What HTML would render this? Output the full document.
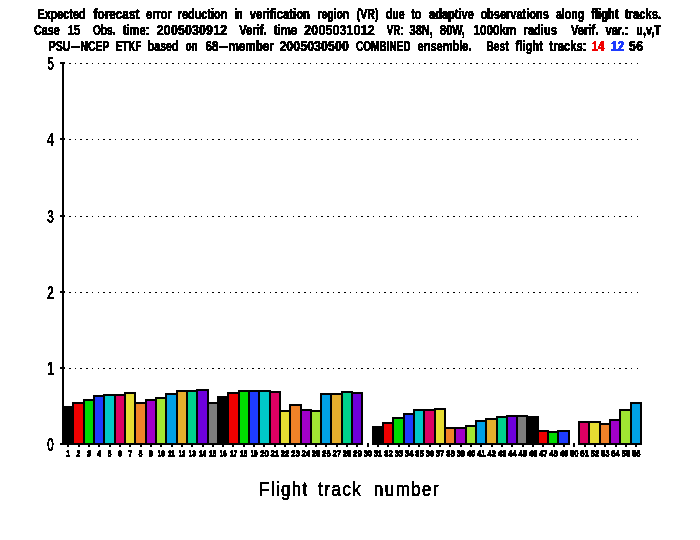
<!DOCTYPE html>
<html lang="en"><head><meta charset="utf-8"><title>Flight track forecast error reduction</title>
<style>html,body{margin:0;padding:0;background:#fff}svg{display:block}text{font-family:"Liberation Sans",sans-serif;fill:#000}.t{font-weight:bold;font-size:15.5px;stroke:#000;stroke-width:0.5px}.y{font-weight:bold;font-size:18px}.x{font-weight:bold;font-size:9px}.l{font-size:19.5px;stroke:#000;stroke-width:0.35px}</style></head><body>
<svg width="700" height="540" viewBox="0 0 700 540">
<rect width="700" height="540" fill="#fff"/>
<defs><filter id="th" x="0" y="0" width="700" height="540" filterUnits="userSpaceOnUse" color-interpolation-filters="sRGB"><feComponentTransfer><feFuncA type="discrete" tableValues="0 0 1 1 1"/></feComponentTransfer></filter><filter id="th2" x="0" y="440" width="700" height="30" filterUnits="userSpaceOnUse" color-interpolation-filters="sRGB"><feOffset in="SourceGraphic" dy="-1" result="o"/><feMerge><feMergeNode in="SourceGraphic"/><feMergeNode in="o"/></feMerge><feComponentTransfer><feFuncA type="discrete" tableValues="0 1 1 1"/></feComponentTransfer></filter></defs>
<g shape-rendering="crispEdges" stroke="#000" stroke-width="1" stroke-dasharray="1.5 4.233">
<line x1="69.02" x2="640" y1="368.5" y2="368.5"/>
<line x1="69.02" x2="640" y1="292.5" y2="292.5"/>
<line x1="69.02" x2="640" y1="216.5" y2="216.5"/>
<line x1="69.02" x2="640" y1="139.5" y2="139.5"/>
<line x1="69.02" x2="640" y1="63.5" y2="63.5"/>
</g>
<g shape-rendering="crispEdges">
<rect x="62" y="62" width="2" height="383" fill="#000"/>
<rect x="60" y="443" width="5" height="2" fill="#000"/>
<rect x="60" y="367" width="5" height="2" fill="#000"/>
<rect x="60" y="291" width="5" height="2" fill="#000"/>
<rect x="60" y="215" width="5" height="2" fill="#000"/>
<rect x="60" y="138" width="5" height="2" fill="#000"/>
<rect x="60" y="62" width="5" height="2" fill="#000"/>
<rect x="62" y="406" width="12" height="39" fill="#000"/>
<rect x="67" y="445" width="2" height="2" fill="#000"/>
<rect x="72" y="402" width="13" height="43" fill="#000"/>
<rect x="74" y="404" width="9" height="39" fill="#f00000"/>
<rect x="78" y="445" width="2" height="2" fill="#000"/>
<rect x="83" y="399" width="12" height="46" fill="#000"/>
<rect x="85" y="401" width="8" height="42" fill="#00dc00"/>
<rect x="88" y="445" width="2" height="2" fill="#000"/>
<rect x="93" y="395" width="12" height="50" fill="#000"/>
<rect x="95" y="397" width="8" height="46" fill="#1e3cff"/>
<rect x="98" y="445" width="2" height="2" fill="#000"/>
<rect x="103" y="394" width="13" height="51" fill="#000"/>
<rect x="105" y="396" width="9" height="47" fill="#00c8c8"/>
<rect x="109" y="445" width="2" height="2" fill="#000"/>
<rect x="114" y="394" width="12" height="51" fill="#000"/>
<rect x="116" y="396" width="8" height="47" fill="#dc0063"/>
<rect x="119" y="445" width="2" height="2" fill="#000"/>
<rect x="124" y="392" width="12" height="53" fill="#000"/>
<rect x="126" y="394" width="8" height="49" fill="#e6dc32"/>
<rect x="129" y="445" width="2" height="2" fill="#000"/>
<rect x="134" y="402" width="13" height="43" fill="#000"/>
<rect x="136" y="404" width="9" height="39" fill="#f08228"/>
<rect x="140" y="445" width="2" height="2" fill="#000"/>
<rect x="145" y="399" width="12" height="46" fill="#000"/>
<rect x="147" y="401" width="8" height="42" fill="#a000c8"/>
<rect x="150" y="445" width="2" height="2" fill="#000"/>
<rect x="155" y="397" width="12" height="48" fill="#000"/>
<rect x="157" y="399" width="8" height="44" fill="#a0e632"/>
<rect x="160" y="445" width="2" height="2" fill="#000"/>
<rect x="165" y="393" width="13" height="52" fill="#000"/>
<rect x="167" y="395" width="9" height="48" fill="#00a0e6"/>
<rect x="171" y="445" width="2" height="2" fill="#000"/>
<rect x="176" y="390" width="12" height="55" fill="#000"/>
<rect x="178" y="392" width="8" height="51" fill="#e6af2d"/>
<rect x="181" y="445" width="2" height="2" fill="#000"/>
<rect x="186" y="390" width="12" height="55" fill="#000"/>
<rect x="188" y="392" width="8" height="51" fill="#00d28c"/>
<rect x="191" y="445" width="2" height="2" fill="#000"/>
<rect x="196" y="389" width="13" height="56" fill="#000"/>
<rect x="198" y="391" width="9" height="52" fill="#6e00dc"/>
<rect x="202" y="445" width="2" height="2" fill="#000"/>
<rect x="207" y="402" width="12" height="43" fill="#000"/>
<rect x="209" y="404" width="8" height="39" fill="#7d7d7d"/>
<rect x="212" y="445" width="2" height="2" fill="#000"/>
<rect x="217" y="396" width="12" height="49" fill="#000"/>
<rect x="222" y="445" width="2" height="2" fill="#000"/>
<rect x="227" y="392" width="13" height="53" fill="#000"/>
<rect x="229" y="394" width="9" height="49" fill="#f00000"/>
<rect x="232" y="445" width="2" height="2" fill="#000"/>
<rect x="238" y="390" width="12" height="55" fill="#000"/>
<rect x="240" y="392" width="8" height="51" fill="#00dc00"/>
<rect x="243" y="445" width="2" height="2" fill="#000"/>
<rect x="248" y="390" width="12" height="55" fill="#000"/>
<rect x="250" y="392" width="8" height="51" fill="#1e3cff"/>
<rect x="253" y="445" width="2" height="2" fill="#000"/>
<rect x="258" y="390" width="13" height="55" fill="#000"/>
<rect x="260" y="392" width="9" height="51" fill="#00c8c8"/>
<rect x="263" y="445" width="2" height="2" fill="#000"/>
<rect x="269" y="391" width="12" height="54" fill="#000"/>
<rect x="271" y="393" width="8" height="50" fill="#dc0063"/>
<rect x="274" y="445" width="2" height="2" fill="#000"/>
<rect x="279" y="410" width="12" height="35" fill="#000"/>
<rect x="281" y="412" width="8" height="31" fill="#e6dc32"/>
<rect x="284" y="445" width="2" height="2" fill="#000"/>
<rect x="289" y="404" width="13" height="41" fill="#000"/>
<rect x="291" y="406" width="9" height="37" fill="#f08228"/>
<rect x="294" y="445" width="2" height="2" fill="#000"/>
<rect x="300" y="409" width="12" height="36" fill="#000"/>
<rect x="302" y="411" width="8" height="32" fill="#a000c8"/>
<rect x="305" y="445" width="2" height="2" fill="#000"/>
<rect x="310" y="410" width="12" height="35" fill="#000"/>
<rect x="312" y="412" width="8" height="31" fill="#a0e632"/>
<rect x="315" y="445" width="2" height="2" fill="#000"/>
<rect x="320" y="393" width="12" height="52" fill="#000"/>
<rect x="322" y="395" width="8" height="48" fill="#00a0e6"/>
<rect x="325" y="445" width="2" height="2" fill="#000"/>
<rect x="330" y="393" width="13" height="52" fill="#000"/>
<rect x="332" y="395" width="9" height="48" fill="#e6af2d"/>
<rect x="336" y="445" width="2" height="2" fill="#000"/>
<rect x="341" y="391" width="12" height="54" fill="#000"/>
<rect x="343" y="393" width="8" height="50" fill="#00d28c"/>
<rect x="346" y="445" width="2" height="2" fill="#000"/>
<rect x="351" y="392" width="12" height="53" fill="#000"/>
<rect x="353" y="394" width="8" height="49" fill="#6e00dc"/>
<rect x="356" y="445" width="2" height="2" fill="#000"/>
<rect x="367" y="443" width="2" height="4" fill="#000"/>
<rect x="372" y="426" width="12" height="19" fill="#000"/>
<rect x="377" y="445" width="2" height="2" fill="#000"/>
<rect x="382" y="422" width="12" height="23" fill="#000"/>
<rect x="384" y="424" width="8" height="19" fill="#f00000"/>
<rect x="387" y="445" width="2" height="2" fill="#000"/>
<rect x="392" y="417" width="13" height="28" fill="#000"/>
<rect x="394" y="419" width="9" height="24" fill="#00dc00"/>
<rect x="398" y="445" width="2" height="2" fill="#000"/>
<rect x="403" y="413" width="12" height="32" fill="#000"/>
<rect x="405" y="415" width="8" height="28" fill="#1e3cff"/>
<rect x="408" y="445" width="2" height="2" fill="#000"/>
<rect x="413" y="409" width="12" height="36" fill="#000"/>
<rect x="415" y="411" width="8" height="32" fill="#00c8c8"/>
<rect x="418" y="445" width="2" height="2" fill="#000"/>
<rect x="423" y="409" width="13" height="36" fill="#000"/>
<rect x="425" y="411" width="9" height="32" fill="#dc0063"/>
<rect x="429" y="445" width="2" height="2" fill="#000"/>
<rect x="434" y="408" width="12" height="37" fill="#000"/>
<rect x="436" y="410" width="8" height="33" fill="#e6dc32"/>
<rect x="439" y="445" width="2" height="2" fill="#000"/>
<rect x="444" y="427" width="12" height="18" fill="#000"/>
<rect x="446" y="429" width="8" height="14" fill="#f08228"/>
<rect x="449" y="445" width="2" height="2" fill="#000"/>
<rect x="454" y="427" width="13" height="18" fill="#000"/>
<rect x="456" y="429" width="9" height="14" fill="#a000c8"/>
<rect x="460" y="445" width="2" height="2" fill="#000"/>
<rect x="465" y="425" width="12" height="20" fill="#000"/>
<rect x="467" y="427" width="8" height="16" fill="#a0e632"/>
<rect x="470" y="445" width="2" height="2" fill="#000"/>
<rect x="475" y="420" width="12" height="25" fill="#000"/>
<rect x="477" y="422" width="8" height="21" fill="#00a0e6"/>
<rect x="480" y="445" width="2" height="2" fill="#000"/>
<rect x="485" y="418" width="13" height="27" fill="#000"/>
<rect x="487" y="420" width="9" height="23" fill="#e6af2d"/>
<rect x="491" y="445" width="2" height="2" fill="#000"/>
<rect x="496" y="416" width="12" height="29" fill="#000"/>
<rect x="498" y="418" width="8" height="25" fill="#00d28c"/>
<rect x="501" y="445" width="2" height="2" fill="#000"/>
<rect x="506" y="415" width="12" height="30" fill="#000"/>
<rect x="508" y="417" width="8" height="26" fill="#6e00dc"/>
<rect x="511" y="445" width="2" height="2" fill="#000"/>
<rect x="516" y="415" width="12" height="30" fill="#000"/>
<rect x="518" y="417" width="8" height="26" fill="#7d7d7d"/>
<rect x="522" y="445" width="2" height="2" fill="#000"/>
<rect x="526" y="416" width="13" height="29" fill="#000"/>
<rect x="532" y="445" width="2" height="2" fill="#000"/>
<rect x="537" y="430" width="12" height="15" fill="#000"/>
<rect x="539" y="432" width="8" height="11" fill="#f00000"/>
<rect x="542" y="445" width="2" height="2" fill="#000"/>
<rect x="547" y="431" width="12" height="14" fill="#000"/>
<rect x="549" y="433" width="8" height="10" fill="#00dc00"/>
<rect x="553" y="445" width="2" height="2" fill="#000"/>
<rect x="557" y="430" width="13" height="15" fill="#000"/>
<rect x="559" y="432" width="9" height="11" fill="#1e3cff"/>
<rect x="563" y="445" width="2" height="2" fill="#000"/>
<rect x="573" y="443" width="2" height="4" fill="#000"/>
<rect x="578" y="421" width="12" height="24" fill="#000"/>
<rect x="580" y="423" width="8" height="20" fill="#dc0063"/>
<rect x="584" y="445" width="2" height="2" fill="#000"/>
<rect x="588" y="421" width="13" height="24" fill="#000"/>
<rect x="590" y="423" width="9" height="20" fill="#e6dc32"/>
<rect x="594" y="445" width="2" height="2" fill="#000"/>
<rect x="599" y="423" width="12" height="22" fill="#000"/>
<rect x="601" y="425" width="8" height="18" fill="#f08228"/>
<rect x="604" y="445" width="2" height="2" fill="#000"/>
<rect x="609" y="419" width="12" height="26" fill="#000"/>
<rect x="611" y="421" width="8" height="22" fill="#a000c8"/>
<rect x="615" y="445" width="2" height="2" fill="#000"/>
<rect x="619" y="409" width="13" height="36" fill="#000"/>
<rect x="621" y="411" width="9" height="32" fill="#a0e632"/>
<rect x="625" y="445" width="2" height="2" fill="#000"/>
<rect x="630" y="402" width="12" height="43" fill="#000"/>
<rect x="632" y="404" width="8" height="39" fill="#00a0e6"/>
<rect x="635" y="445" width="2" height="2" fill="#000"/>
</g>
<g filter="url(#th2)">
<text class="x" transform="translate(66.3,456.8) scale(1,1.0)" textLength="4" lengthAdjust="spacingAndGlyphs">1</text>
<text class="x" transform="translate(76.6,456.8) scale(1,1.0)" textLength="4" lengthAdjust="spacingAndGlyphs">2</text>
<text class="x" transform="translate(86.9,456.8) scale(1,1.0)" textLength="4" lengthAdjust="spacingAndGlyphs">3</text>
<text class="x" transform="translate(97.2,456.8) scale(1,1.0)" textLength="4" lengthAdjust="spacingAndGlyphs">4</text>
<text class="x" transform="translate(107.6,456.8) scale(1,1.0)" textLength="4" lengthAdjust="spacingAndGlyphs">5</text>
<text class="x" transform="translate(117.9,456.8) scale(1,1.0)" textLength="4" lengthAdjust="spacingAndGlyphs">6</text>
<text class="x" transform="translate(128.2,456.8) scale(1,1.0)" textLength="4" lengthAdjust="spacingAndGlyphs">7</text>
<text class="x" transform="translate(138.6,456.8) scale(1,1.0)" textLength="4" lengthAdjust="spacingAndGlyphs">8</text>
<text class="x" transform="translate(148.9,456.8) scale(1,1.0)" textLength="4" lengthAdjust="spacingAndGlyphs">9</text>
<text class="x" transform="translate(157.7,456.8) scale(1,1.0)" textLength="7" lengthAdjust="spacingAndGlyphs">10</text>
<text class="x" transform="translate(168.0,456.8) scale(1,1.0)" textLength="7" lengthAdjust="spacingAndGlyphs">11</text>
<text class="x" transform="translate(178.4,456.8) scale(1,1.0)" textLength="7" lengthAdjust="spacingAndGlyphs">12</text>
<text class="x" transform="translate(188.7,456.8) scale(1,1.0)" textLength="7" lengthAdjust="spacingAndGlyphs">13</text>
<text class="x" transform="translate(199.0,456.8) scale(1,1.0)" textLength="7" lengthAdjust="spacingAndGlyphs">14</text>
<text class="x" transform="translate(209.3,456.8) scale(1,1.0)" textLength="7" lengthAdjust="spacingAndGlyphs">15</text>
<text class="x" transform="translate(219.7,456.8) scale(1,1.0)" textLength="7" lengthAdjust="spacingAndGlyphs">16</text>
<text class="x" transform="translate(230.0,456.8) scale(1,1.0)" textLength="7" lengthAdjust="spacingAndGlyphs">17</text>
<text class="x" transform="translate(240.3,456.8) scale(1,1.0)" textLength="7" lengthAdjust="spacingAndGlyphs">18</text>
<text class="x" transform="translate(250.6,456.8) scale(1,1.0)" textLength="7" lengthAdjust="spacingAndGlyphs">19</text>
<text class="x" transform="translate(260.2,456.8) scale(1,1.0)" textLength="8.6" lengthAdjust="spacingAndGlyphs">20</text>
<text class="x" transform="translate(270.5,456.8) scale(1,1.0)" textLength="8.6" lengthAdjust="spacingAndGlyphs">21</text>
<text class="x" transform="translate(280.8,456.8) scale(1,1.0)" textLength="8.6" lengthAdjust="spacingAndGlyphs">22</text>
<text class="x" transform="translate(291.2,456.8) scale(1,1.0)" textLength="8.6" lengthAdjust="spacingAndGlyphs">23</text>
<text class="x" transform="translate(301.5,456.8) scale(1,1.0)" textLength="8.6" lengthAdjust="spacingAndGlyphs">24</text>
<text class="x" transform="translate(311.8,456.8) scale(1,1.0)" textLength="8.6" lengthAdjust="spacingAndGlyphs">25</text>
<text class="x" transform="translate(322.1,456.8) scale(1,1.0)" textLength="8.6" lengthAdjust="spacingAndGlyphs">26</text>
<text class="x" transform="translate(332.5,456.8) scale(1,1.0)" textLength="8.6" lengthAdjust="spacingAndGlyphs">27</text>
<text class="x" transform="translate(342.8,456.8) scale(1,1.0)" textLength="8.6" lengthAdjust="spacingAndGlyphs">28</text>
<text class="x" transform="translate(353.1,456.8) scale(1,1.0)" textLength="8.6" lengthAdjust="spacingAndGlyphs">29</text>
<text class="x" transform="translate(363.4,456.8) scale(1,1.0)" textLength="8.6" lengthAdjust="spacingAndGlyphs">30</text>
<text class="x" transform="translate(373.8,456.8) scale(1,1.0)" textLength="8.6" lengthAdjust="spacingAndGlyphs">31</text>
<text class="x" transform="translate(384.1,456.8) scale(1,1.0)" textLength="8.6" lengthAdjust="spacingAndGlyphs">32</text>
<text class="x" transform="translate(394.4,456.8) scale(1,1.0)" textLength="8.6" lengthAdjust="spacingAndGlyphs">33</text>
<text class="x" transform="translate(404.8,456.8) scale(1,1.0)" textLength="8.6" lengthAdjust="spacingAndGlyphs">34</text>
<text class="x" transform="translate(415.1,456.8) scale(1,1.0)" textLength="8.6" lengthAdjust="spacingAndGlyphs">35</text>
<text class="x" transform="translate(425.4,456.8) scale(1,1.0)" textLength="8.6" lengthAdjust="spacingAndGlyphs">36</text>
<text class="x" transform="translate(435.7,456.8) scale(1,1.0)" textLength="8.6" lengthAdjust="spacingAndGlyphs">37</text>
<text class="x" transform="translate(446.1,456.8) scale(1,1.0)" textLength="8.6" lengthAdjust="spacingAndGlyphs">38</text>
<text class="x" transform="translate(456.4,456.8) scale(1,1.0)" textLength="8.6" lengthAdjust="spacingAndGlyphs">39</text>
<text class="x" transform="translate(466.7,456.8) scale(1,1.0)" textLength="8.6" lengthAdjust="spacingAndGlyphs">40</text>
<text class="x" transform="translate(477.0,456.8) scale(1,1.0)" textLength="8.6" lengthAdjust="spacingAndGlyphs">41</text>
<text class="x" transform="translate(487.4,456.8) scale(1,1.0)" textLength="8.6" lengthAdjust="spacingAndGlyphs">42</text>
<text class="x" transform="translate(497.7,456.8) scale(1,1.0)" textLength="8.6" lengthAdjust="spacingAndGlyphs">43</text>
<text class="x" transform="translate(508.0,456.8) scale(1,1.0)" textLength="8.6" lengthAdjust="spacingAndGlyphs">44</text>
<text class="x" transform="translate(518.4,456.8) scale(1,1.0)" textLength="8.6" lengthAdjust="spacingAndGlyphs">45</text>
<text class="x" transform="translate(528.7,456.8) scale(1,1.0)" textLength="8.6" lengthAdjust="spacingAndGlyphs">46</text>
<text class="x" transform="translate(539.0,456.8) scale(1,1.0)" textLength="8.6" lengthAdjust="spacingAndGlyphs">47</text>
<text class="x" transform="translate(549.3,456.8) scale(1,1.0)" textLength="8.6" lengthAdjust="spacingAndGlyphs">48</text>
<text class="x" transform="translate(559.7,456.8) scale(1,1.0)" textLength="8.6" lengthAdjust="spacingAndGlyphs">49</text>
<text class="x" transform="translate(570.0,456.8) scale(1,1.0)" textLength="8.6" lengthAdjust="spacingAndGlyphs">50</text>
<text class="x" transform="translate(580.3,456.8) scale(1,1.0)" textLength="8.6" lengthAdjust="spacingAndGlyphs">51</text>
<text class="x" transform="translate(590.6,456.8) scale(1,1.0)" textLength="8.6" lengthAdjust="spacingAndGlyphs">52</text>
<text class="x" transform="translate(601.0,456.8) scale(1,1.0)" textLength="8.6" lengthAdjust="spacingAndGlyphs">53</text>
<text class="x" transform="translate(611.3,456.8) scale(1,1.0)" textLength="8.6" lengthAdjust="spacingAndGlyphs">54</text>
<text class="x" transform="translate(621.6,456.8) scale(1,1.0)" textLength="8.6" lengthAdjust="spacingAndGlyphs">55</text>
<text class="x" transform="translate(631.9,456.8) scale(1,1.0)" textLength="8.6" lengthAdjust="spacingAndGlyphs">56</text>
</g>
<g filter="url(#th)">
<text class="y" x="47" y="451" textLength="7" lengthAdjust="spacingAndGlyphs">0</text>
<text class="y" x="47" y="375" textLength="7" lengthAdjust="spacingAndGlyphs">1</text>
<text class="y" x="47" y="299" textLength="7" lengthAdjust="spacingAndGlyphs">2</text>
<text class="y" x="47" y="223" textLength="7" lengthAdjust="spacingAndGlyphs">3</text>
<text class="y" x="47" y="146" textLength="7" lengthAdjust="spacingAndGlyphs">4</text>
<text class="y" x="47" y="70" textLength="7" lengthAdjust="spacingAndGlyphs">5</text>
<text class="l" transform="translate(259.00,496) scale(0.86,1)" style="letter-spacing:1.67px">Flight</text>
<text class="l" transform="translate(318.30,496) scale(0.86,1)" style="letter-spacing:1.79px">track</text>
<text class="l" transform="translate(374.00,496) scale(0.86,1)" style="letter-spacing:1.80px">number</text>
<text class="t" transform="translate(37.60,19) scale(0.695,1)" style="letter-spacing:0.00px">Expected</text>
<text class="t" transform="translate(93.60,19) scale(0.759,1)" style="letter-spacing:0.00px">forecast</text>
<text class="t" transform="translate(146.10,19) scale(0.707,1)" style="letter-spacing:0.00px">error</text>
<text class="t" transform="translate(177.70,19) scale(0.704,1)" style="letter-spacing:0.00px">reduction</text>
<text class="t" transform="translate(234.80,19) scale(0.620,1)" style="letter-spacing:-1.04px">in</text>
<text class="t" transform="translate(249.80,19) scale(0.727,1)" style="letter-spacing:0.00px">verification</text>
<text class="t" transform="translate(317.60,19) scale(0.667,1)" style="letter-spacing:0.00px">region</text>
<text class="t" transform="translate(356.70,19) scale(0.684,1)" style="letter-spacing:0.00px">(VR)</text>
<text class="t" transform="translate(385.90,19) scale(0.678,1)" style="letter-spacing:0.00px">due</text>
<text class="t" transform="translate(411.20,19) scale(0.690,1)" style="letter-spacing:0.00px">to</text>
<text class="t" transform="translate(429.00,19) scale(0.714,1)" style="letter-spacing:0.00px">adaptive</text>
<text class="t" transform="translate(480.40,19) scale(0.710,1)" style="letter-spacing:0.00px">observations</text>
<text class="t" transform="translate(556.00,19) scale(0.682,1)" style="letter-spacing:0.00px">along</text>
<text class="t" transform="translate(591.30,19) scale(0.718,1)" style="letter-spacing:0.00px">flight</text>
<text class="t" transform="translate(624.80,19) scale(0.730,1)" style="letter-spacing:0.00px">tracks.</text>
<text class="t" transform="translate(34.00,35) scale(0.691,1)" style="letter-spacing:0.00px">Case</text>
<text class="t" transform="translate(68.10,35) scale(0.690,1)" style="letter-spacing:0.00px">15</text>
<text class="t" transform="translate(92.90,35) scale(0.659,1)" style="letter-spacing:0.00px">Obs.</text>
<text class="t" transform="translate(122.70,35) scale(0.718,1)" style="letter-spacing:0.00px">time:</text>
<text class="t" transform="translate(156.80,35) scale(0.800,1)" style="letter-spacing:0.20px">2005030912</text>
<text class="t" transform="translate(239.30,35) scale(0.723,1)" style="letter-spacing:0.00px">Verif.</text>
<text class="t" transform="translate(273.80,35) scale(0.734,1)" style="letter-spacing:0.00px">time</text>
<text class="t" transform="translate(304.30,35) scale(0.800,1)" style="letter-spacing:0.20px">2005031012</text>
<text class="t" transform="translate(386.80,35) scale(0.622,1)" style="letter-spacing:0.00px">VR:</text>
<text class="t" transform="translate(409.60,35) scale(0.711,1)" style="letter-spacing:0.00px">38N,</text>
<text class="t" transform="translate(440.10,35) scale(0.702,1)" style="letter-spacing:0.00px">80W,</text>
<text class="t" transform="translate(473.60,35) scale(0.752,1)" style="letter-spacing:0.00px">1000km</text>
<text class="t" transform="translate(523.60,35) scale(0.716,1)" style="letter-spacing:0.00px">radius</text>
<text class="t" transform="translate(570.90,35) scale(0.723,1)" style="letter-spacing:0.00px">Verif.</text>
<text class="t" transform="translate(605.40,35) scale(0.724,1)" style="letter-spacing:-0.00px">var.:</text>
<text class="t" transform="translate(636.30,35) scale(0.699,1)" style="letter-spacing:0.00px">u,v,T</text>
<text class="t" transform="translate(48.70,51) scale(0.680,1)" style="letter-spacing:0.00px">PSU<tspan textLength="14.70" lengthAdjust="spacingAndGlyphs" style="letter-spacing:0">-</tspan>NCEP</text>
<text class="t" transform="translate(115.90,51) scale(0.625,1)" style="letter-spacing:0.00px">ETKF</text>
<text class="t" transform="translate(147.80,51) scale(0.683,1)" style="letter-spacing:0.00px">based</text>
<text class="t" transform="translate(185.80,51) scale(0.620,1)" style="letter-spacing:-0.07px">on</text>
<text class="t" transform="translate(205.50,51) scale(0.753,1)" style="letter-spacing:0.00px">68<tspan textLength="13.28" lengthAdjust="spacingAndGlyphs" style="letter-spacing:0">-</tspan>member</text>
<text class="t" transform="translate(279.40,51) scale(0.800,1)" style="letter-spacing:0.07px">2005030500</text>
<text class="t" transform="translate(355.90,51) scale(0.648,1)" style="letter-spacing:0.00px">COMBINED</text>
<text class="t" transform="translate(417.60,51) scale(0.712,1)" style="letter-spacing:0.00px">ensemble.</text>
<text class="t" transform="translate(486.20,51) scale(0.672,1)" style="letter-spacing:0.00px">Best</text>
<text class="t" transform="translate(515.60,51) scale(0.718,1)" style="letter-spacing:0.00px">flight</text>
<text class="t" transform="translate(549.60,51) scale(0.724,1)" style="letter-spacing:0.00px">tracks:</text>
<text class="t" transform="translate(592.10,51) scale(0.701,1)" style="letter-spacing:0.00px;fill:#f00000;stroke:#f00000">14</text>
<text class="t" transform="translate(611.00,51) scale(0.754,1)" style="letter-spacing:0.00px;fill:#1e3cff;stroke:#1e3cff">12</text>
<text class="t" transform="translate(629.10,51) scale(0.800,1)" style="letter-spacing:0.37px">56</text>
</g>
</svg></body></html>
